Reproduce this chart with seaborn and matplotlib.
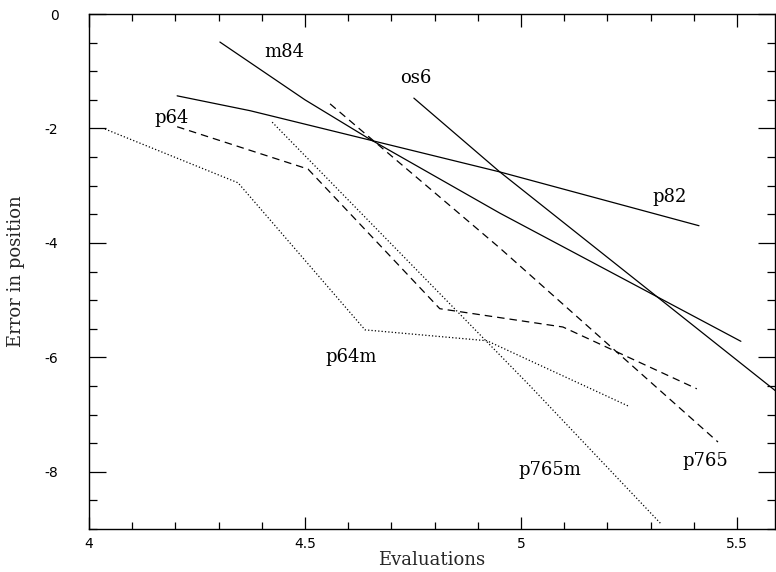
import numpy as np
import pandas as pd
import matplotlib
matplotlib.use("Agg")
import matplotlib.pyplot as plt
import seaborn as sns
from matplotlib.ticker import MultipleLocator

# curve data
m84_x = [4.303, 4.500, 4.646, 4.951, 5.509]
m84_y = [-0.49, -1.50, -2.17, -3.48, -5.72]

os6_x = [4.752, 4.951, 5.60]
os6_y = [-1.47, -2.76, -6.65]

p82_x = [4.204, 4.373, 4.951, 5.412]
p82_y = [-1.43, -1.69, -2.76, -3.70]

p64_x = [4.204, 4.507, 4.812, 5.097, 5.407]
p64_y = [-1.97, -2.71, -5.15, -5.47, -6.55]

p765_x = [4.558, 4.951, 5.456]
p765_y = [-1.57, -4.09, -7.48]

p64m_x = [4.037, 4.345, 4.639, 4.921, 5.248]
p64m_y = [-2.01, -2.95, -5.52, -5.71, -6.85]

p765m_x = [4.424, 5.021, 5.324]
p765m_y = [-1.89, -6.50, -8.91]

series = {
    "m84": (m84_x, m84_y, "solid"),
    "os6": (os6_x, os6_y, "solid"),
    "p82": (p82_x, p82_y, "solid"),
    "p64": (p64_x, p64_y, "dashed"),
    "p765": (p765_x, p765_y, "dashed"),
    "p64m": (p64m_x, p64m_y, "dotted"),
    "p765m": (p765m_x, p765m_y, "dotted"),
}

# label positions (data coords)
label_names = ["m84", "os6", "p64", "p82", "p64m", "p765m", "p765"]
label_x = [4.451, 4.757, 4.192, 5.343, 4.606, 5.067, 5.426]
label_y = [-0.66, -1.12, -1.82, -3.20, -5.99, -7.97, -7.81]

rows = []
for name, (xs, ys, kind) in series.items():
    for x, y in zip(xs, ys):
        rows.append({"series": name, "Evaluations": x, "Error": y, "kind": kind})
df = pd.DataFrame(rows)

sns.set_style("ticks")
plt.rcParams["font.family"] = ["DejaVu Sans"]

fig = plt.figure(figsize=(7.76, 5.72), dpi=100)
ax = fig.add_axes([89 / 776, 1 - 529 / 572, (775 - 89) / 776, (529 - 14) / 572])

sns.lineplot(data=df, x="Evaluations", y="Error", units="series", style="kind",
             estimator=None, sort=False, color="black", linewidth=0.9,
             dashes={"solid": "", "dashed": (6, 4), "dotted": (1, 1.7)},
             legend=False, ax=ax)

for name, x, y in zip(label_names, label_x, label_y):
    ax.text(x, y, name, ha="center", va="center", fontsize=13,
            family="DejaVu Serif", color="black")

ax.set_xlim(4, 4 + (775 - 89) / 432)
ax.set_ylim(-9, 0)
ax.xaxis.set_minor_locator(MultipleLocator(0.1))
ax.yaxis.set_minor_locator(MultipleLocator(0.5))
ax.set_xticks([4, 4.5, 5, 5.5])
ax.set_xticklabels(["4", "4.5", "5", "5.5"])
ax.set_yticks([0, -2, -4, -6, -8])
ax.set_yticklabels(["0", "-2", "-4", "-6", "-8"])

ax.tick_params(which="both", direction="in", top=True, right=True, colors="black",
               labelsize=10, width=0.9)
ax.tick_params(axis="y", which="major", length=12, pad=22)
ax.tick_params(axis="y", which="minor", length=6)
ax.tick_params(axis="x", which="major", length=9, pad=6)
ax.tick_params(axis="x", which="minor", length=5)
for s in ax.spines.values():
    s.set_linewidth(1.0)
    s.set_color("black")

ax.set_xlabel("Evaluations", fontsize=13, family="DejaVu Serif", labelpad=0)
ax.set_ylabel("Error in position", fontsize=13, family="DejaVu Serif", labelpad=14)

fig.savefig("out.png", dpi=100)
